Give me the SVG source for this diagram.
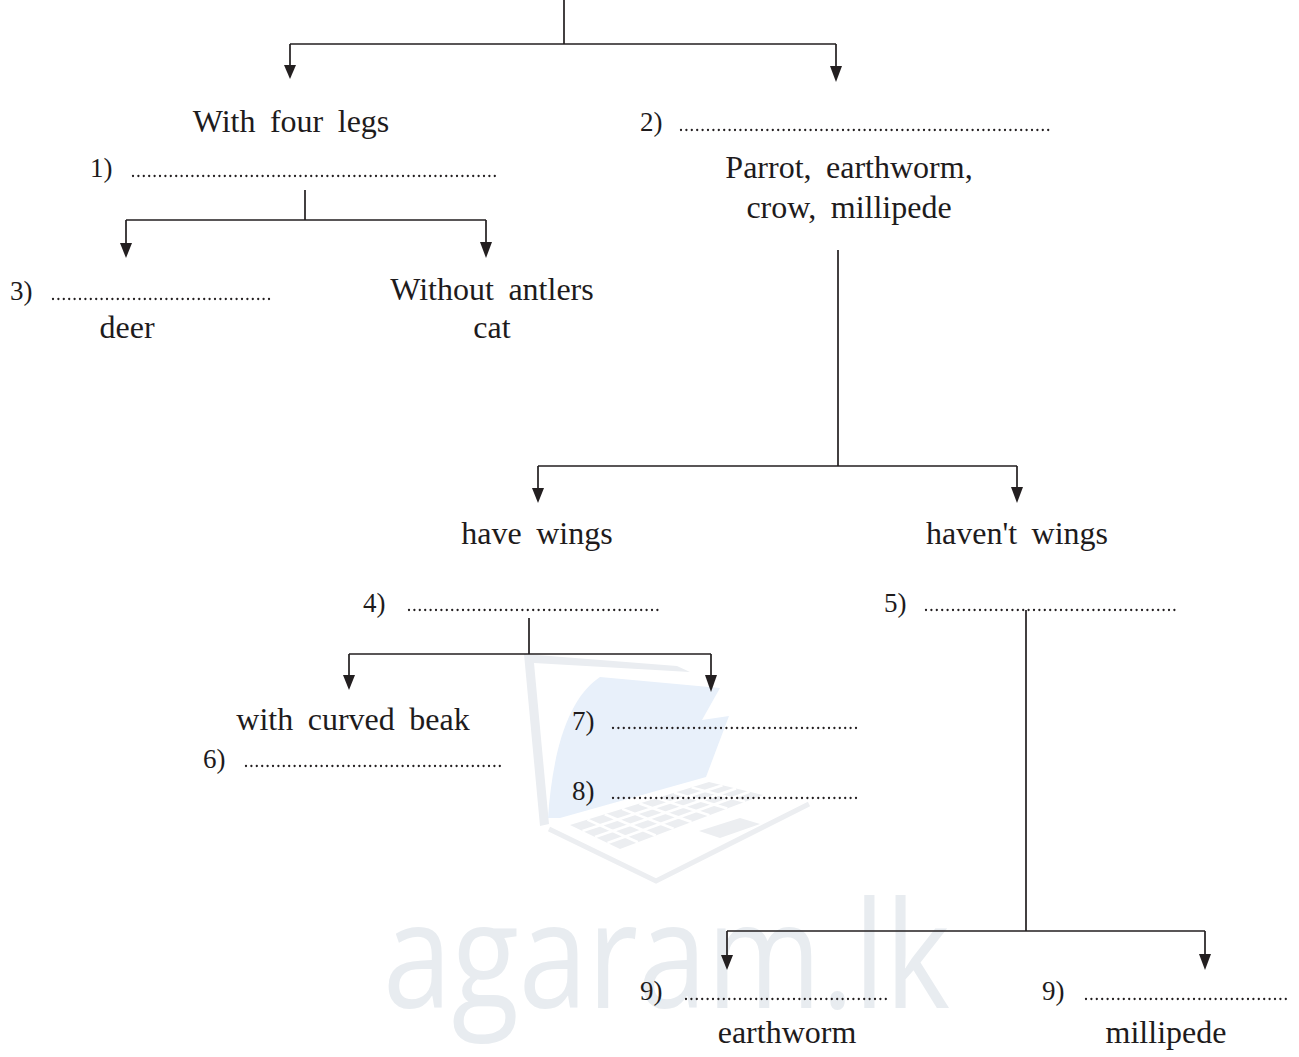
<svg xmlns="http://www.w3.org/2000/svg" width="1299" height="1057" viewBox="0 0 1299 1057">
<defs>
<style>
.t{font-family:"Liberation Serif","Times New Roman",serif;font-size:32px;fill:#1e1b1c;word-spacing:6.5px}
.m{text-anchor:middle}
.n{font-family:"Liberation Serif","Times New Roman",serif;font-size:27px;fill:#1e1b1c}
.dot{stroke:#231f20;stroke-width:2.3;stroke-linecap:round;stroke-dasharray:0 5.4;fill:none}
.ln{stroke:#231f20;stroke-width:1.7;fill:none}
.ah{fill:#231f20}
.wm{font-family:"Open Sans","DejaVu Sans",sans-serif;font-size:125px;fill:#e8ecf0}
.key{stroke:#ffffff;stroke-width:2.5;fill:none}
</style>
</defs>
<rect width="1299" height="1057" fill="#ffffff"/>
<g id="watermark">
<polygon points="524,654 677,666 690,672 534,663 549,824 540,826" fill="#eaedf1"/>
<path d="M548,818 C552,760 565,700 600,677 L720,688 L702,720 L729,716 L706,777 L560,818 Z" fill="#e8f0fa"/>
<polygon points="570,825 709,782 763,795 620,849" fill="#eceef1"/>
<path class="key" d="M582.5,831 L722.5,785.25 M595,837 L736,788.5 M607.5,843 L749.5,791.75 M587.4,819.6 L637.9,842.25 M604.75,814.25 L655.75,835.5 M622.1,808.9 L673.6,828.75 M639.5,803.5 L691.5,822 M656.9,798.1 L709.4,815.25 M674.25,792.75 L727.25,808.5 M691.6,787.4 L745.1,801.75"/>
<polygon points="699,831 740,818 760,824 720,838" fill="#eceef1"/>
<polyline points="549,829 656,881 809,804" fill="none" stroke="#eceef1" stroke-width="5"/>
<text class="wm" transform="translate(383,1008) scale(1,1.18)" x="0" y="0" textLength="567" lengthAdjust="spacingAndGlyphs">agaram.lk</text>
</g>
<g id="connectors">
<path class="ln" d="M564,0 V44 M290,44 H836 M290,44 V66 M836,44 V68"/>
<polygon class="ah" points="284,65 296,65 290,79"/>
<polygon class="ah" points="830,66 842,66 836,82"/>
<path class="ln" d="M305,190 V220 M126,220 H486 M126,220 V244 M486,220 V244"/>
<polygon class="ah" points="120,243 132,243 126,258"/>
<polygon class="ah" points="480,242 492,242 486,258"/>
<path class="ln" d="M838,250 V466 M538,466 H1017 M538,466 V489 M1017,466 V489"/>
<polygon class="ah" points="532,488 544,488 538,503"/>
<polygon class="ah" points="1011,487 1023,487 1017,503"/>
<path class="ln" d="M529,618 V654 M349,654 H711 M349,654 V676 M711,654 V676"/>
<polygon class="ah" points="343,675 355,675 349,690"/>
<polygon class="ah" points="705,675 717,675 711,692"/>
<path class="ln" d="M1026,610 V931 M727,931 H1205 M727,931 V956 M1205,931 V956"/>
<polygon class="ah" points="721,955 733,955 727,970"/>
<polygon class="ah" points="1199,954 1211,954 1205,970"/>
</g>
<g id="n-four-legs"><text class="t m" x="291" y="132">With four legs</text></g>
<g id="n-1"><text class="n" x="90" y="177">1)</text><line class="dot" x1="133" y1="176" x2="498" y2="176"/></g>
<g id="n-2"><text class="n" x="640" y="131">2)</text><line class="dot" x1="681" y1="130" x2="1050" y2="130"/></g>
<g id="n-parrot"><text class="t m" x="849" y="178">Parrot, earthworm,</text><text class="t m" x="849" y="218">crow, millipede</text></g>
<g id="n-3"><text class="n" x="10" y="300">3)</text><line class="dot" x1="53" y1="299" x2="270" y2="299"/><text class="t m" x="127" y="338">deer</text></g>
<g id="n-antlers"><text class="t m" x="492" y="300">Without antlers</text><text class="t m" x="492" y="338">cat</text></g>
<g id="n-have-wings"><text class="t m" x="537" y="544">have wings</text></g>
<g id="n-havent-wings"><text class="t m" x="1017" y="544">haven't wings</text></g>
<g id="n-4"><text class="n" x="363" y="612">4)</text><line class="dot" x1="409" y1="610" x2="660" y2="610"/></g>
<g id="n-5"><text class="n" x="884" y="612">5)</text><line class="dot" x1="926" y1="610" x2="1178" y2="610"/></g>
<g id="n-curved"><text class="t m" x="353" y="730">with curved beak</text></g>
<g id="n-6"><text class="n" x="203" y="768">6)</text><line class="dot" x1="246" y1="766" x2="502" y2="766"/></g>
<g id="n-7"><text class="n" x="572" y="730">7)</text><line class="dot" x1="613" y1="728" x2="860" y2="728"/></g>
<g id="n-8"><text class="n" x="572" y="800">8)</text><line class="dot" x1="613" y1="798" x2="860" y2="798"/></g>
<g id="n-9a"><text class="n" x="640" y="1000">9)</text><line class="dot" x1="686" y1="999" x2="890" y2="999"/><text class="t m" x="787" y="1043">earthworm</text></g>
<g id="n-9b"><text class="n" x="1042" y="1000">9)</text><line class="dot" x1="1086" y1="999" x2="1290" y2="999"/><text class="t m" x="1166" y="1043">millipede</text></g>
</svg>
